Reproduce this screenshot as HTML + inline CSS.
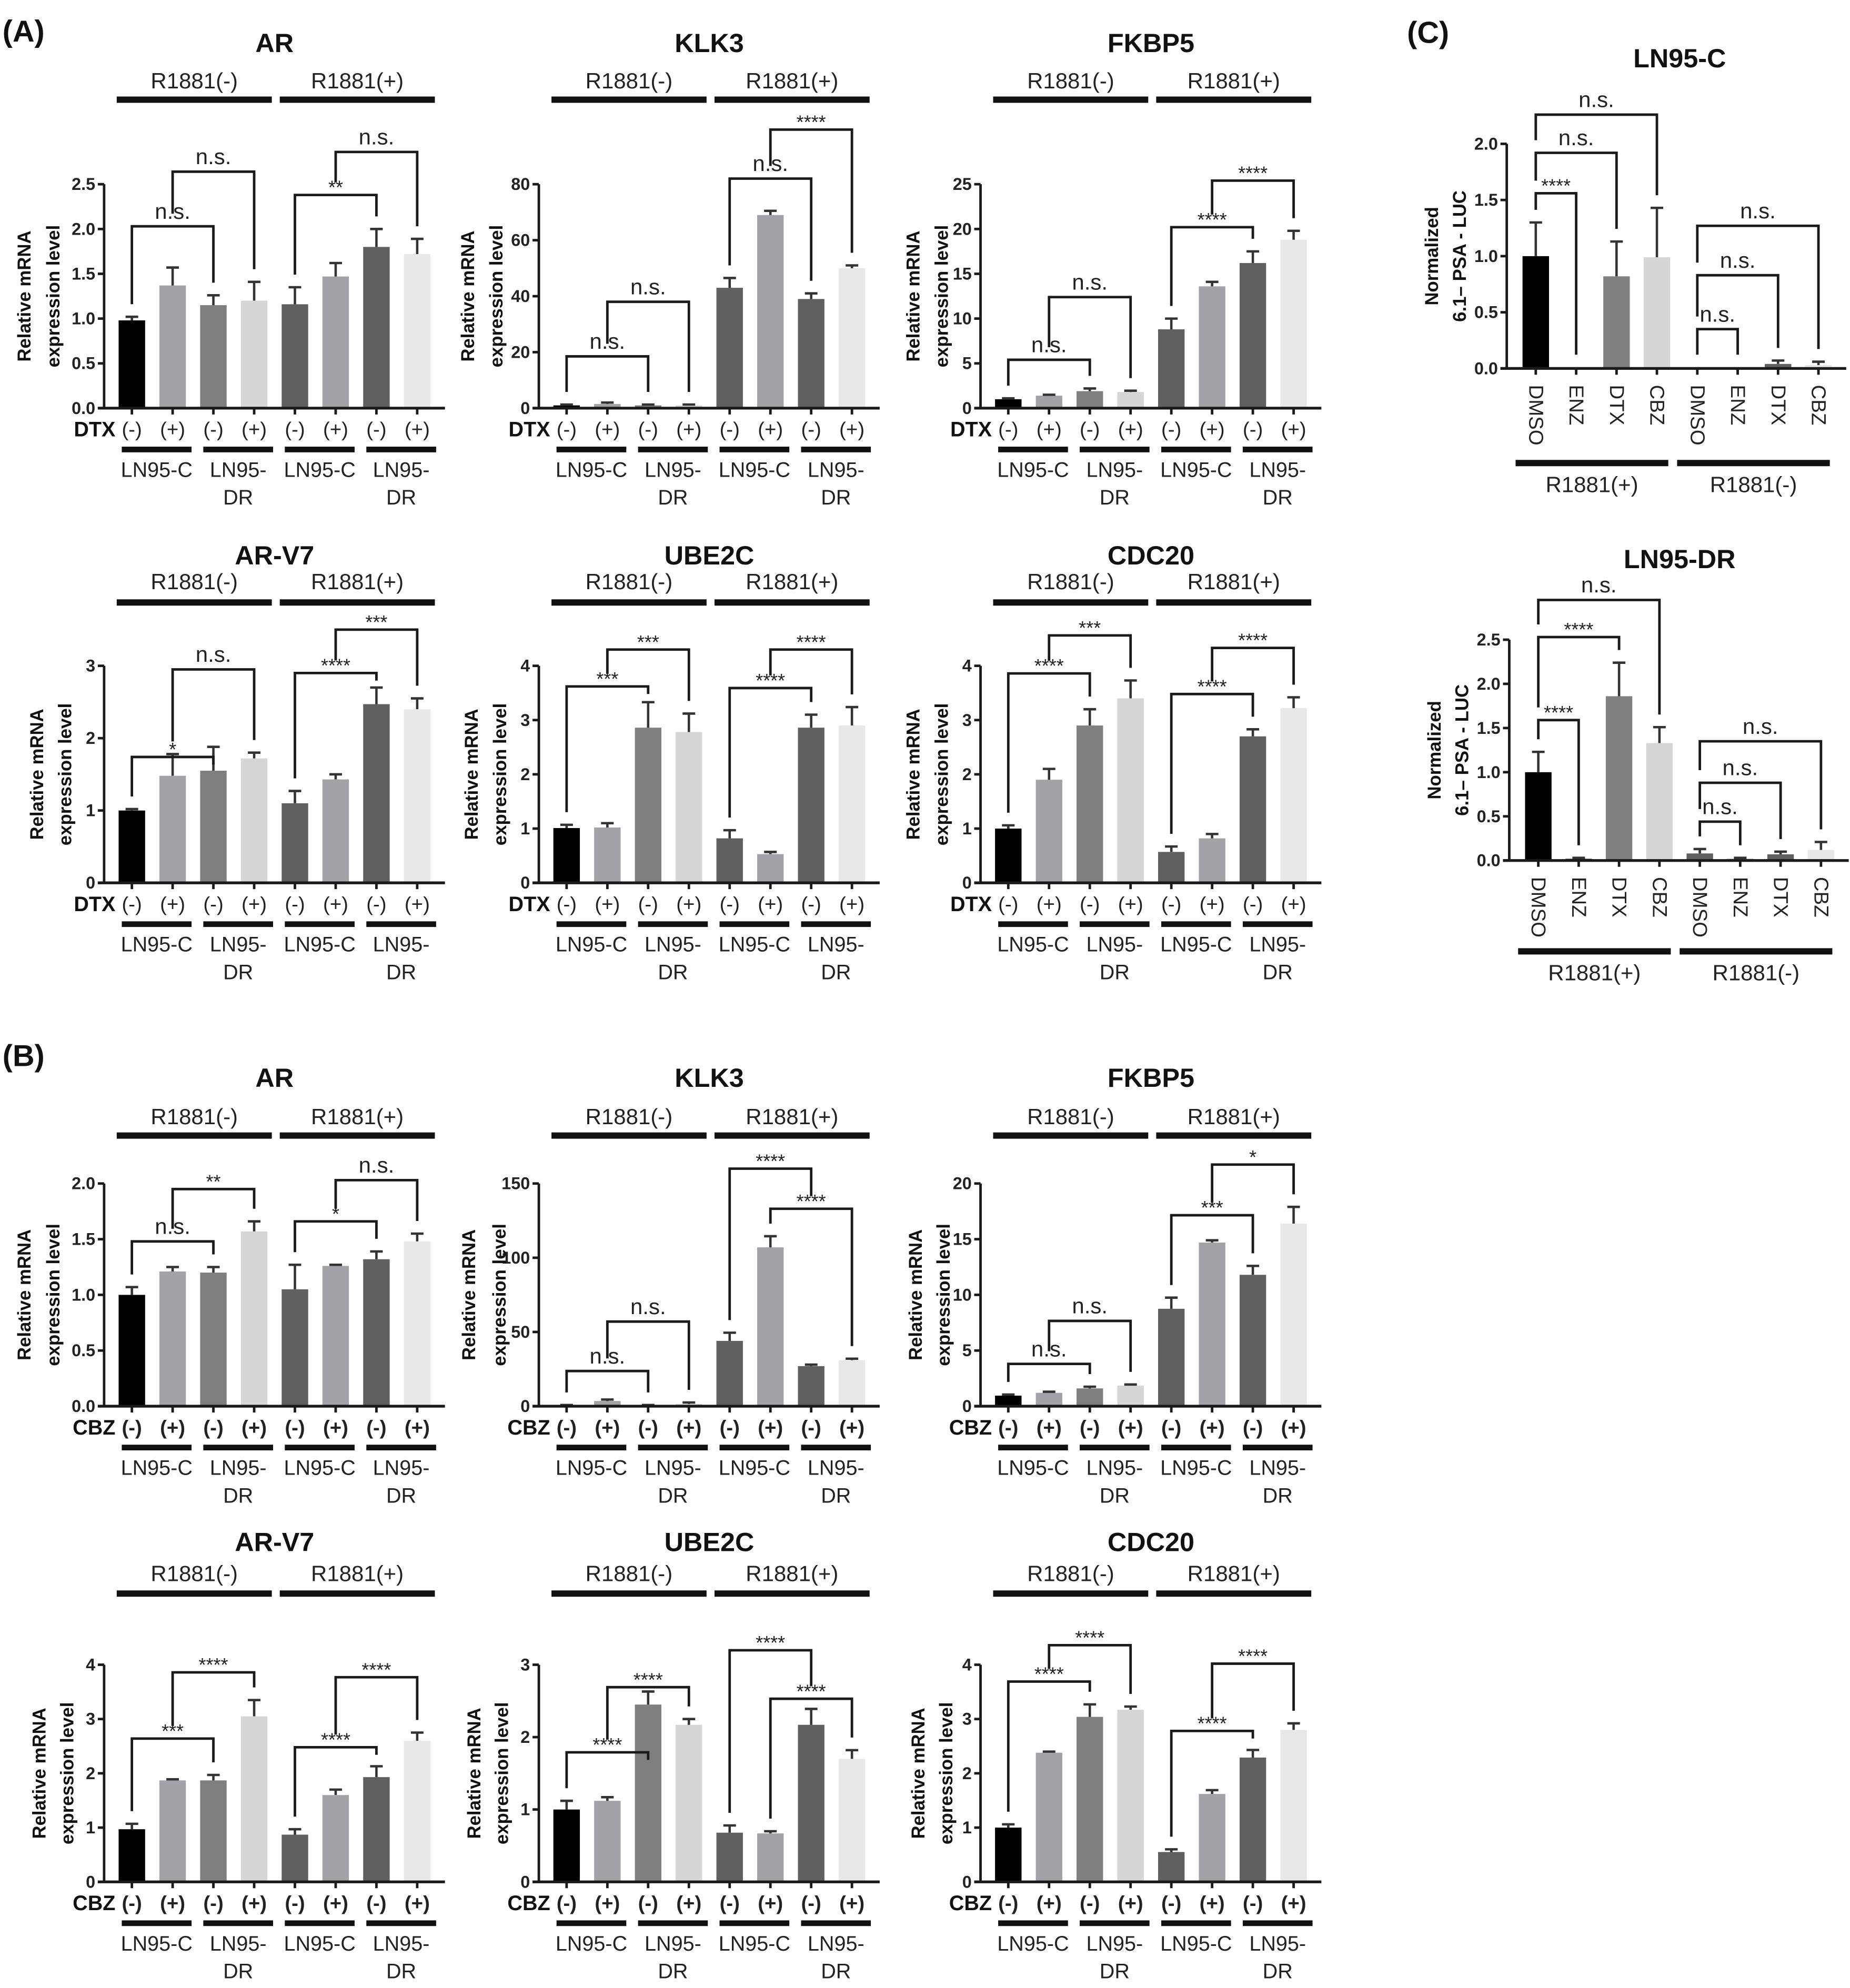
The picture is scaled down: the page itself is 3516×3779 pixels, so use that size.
<!DOCTYPE html>
<html><head><meta charset="utf-8"><style>
html,body{margin:0;padding:0;background:#fff;}
svg{display:block;font-family:"Liberation Sans",Arial,sans-serif;}
</style></head><body>
<svg id="fig" width="3516" height="3779" viewBox="0 0 1466 1575.6" preserveAspectRatio="none" xmlns="http://www.w3.org/2000/svg">
<rect x="0" y="0" width="1466" height="1576" fill="#fff"/>
<text x="2" y="33" font-size="24" font-weight="bold" fill="#111">(A)</text>
<text x="2" y="845" font-size="24" font-weight="bold" fill="#111">(B)</text>
<text x="1115" y="34" font-size="24" font-weight="bold" fill="#111">(C)</text>
</svg>
<script>
// ---------- DATA ----------
const pairs4 = [[0,2],[1,3],[4,6],[5,7]];
const pairsC = [[0,1],[0,2],[0,3],[4,5],[4,6],[4,7]];
const treatLabels = ["(-)","(+)","(-)","(+)","(-)","(+)","(-)","(+)"];
const cCategories = ["DMSO","ENZ","DTX","CBZ","DMSO","ENZ","DTX","CBZ"];

const aAR_values = [0.98,1.37,1.15,1.2,1.16,1.47,1.8,1.72];
const aAR_errors = [0.04,0.2,0.11,0.21,0.19,0.15,0.2,0.17];
const aAR_ticks = [0,0.5,1,1.5,2,2.5];
const aAR_tickLabels = ["0.0","0.5","1.0","1.5","2.0","2.5"];
const aAR_sig = ["n.s.","n.s.","**","n.s."];
const aAR_sigHeights = [2.03,2.64,2.38,2.86];

const aKLK3_values = [1,1.5,1,1,43,69,39,50];
const aKLK3_errors = [0.3,0.5,0.3,0.3,3.5,1.5,2,1];
const aKLK3_ticks = [0,20,40,60,80];
const aKLK3_tickLabels = ["0","20","40","60","80"];
const aKLK3_sig = ["n.s.","n.s.","n.s.","****"];
const aKLK3_sigHeights = [18.5,38,82,99.5];

const aFKBP5_values = [1,1.4,1.9,1.8,8.8,13.6,16.2,18.8];
const aFKBP5_errors = [0.1,0.1,0.3,0.15,1.2,0.5,1.3,1.0];
const aFKBP5_ticks = [0,5,10,15,20,25];
const aFKBP5_tickLabels = ["0","5","10","15","20","25"];
const aFKBP5_sig = ["n.s.","n.s.","****","****"];
const aFKBP5_sigHeights = [5.4,12.4,20.2,25.4];

const aARV7_values = [1.0,1.48,1.55,1.72,1.1,1.43,2.47,2.4];
const aARV7_errors = [0.02,0.3,0.33,0.08,0.17,0.07,0.23,0.15];
const aARV7_ticks = [0,1,2,3];
const aARV7_tickLabels = ["0","1","2","3"];
const aARV7_sig = ["*","n.s.","****","***"];
const aARV7_sigHeights = [1.74,2.95,2.9,3.5];

const aUBE2C_values = [1.01,1.02,2.86,2.78,0.82,0.53,2.86,2.9];
const aUBE2C_errors = [0.06,0.08,0.47,0.34,0.15,0.04,0.24,0.34];
const aUBE2C_ticks = [0,1,2,3,4];
const aUBE2C_tickLabels = ["0","1","2","3","4"];
const aUBE2C_sig = ["***","***","****","****"];
const aUBE2C_sigHeights = [3.62,4.3,3.59,4.3];

const aCDC20_values = [1.0,1.9,2.9,3.4,0.57,0.82,2.7,3.22];
const aCDC20_errors = [0.06,0.2,0.3,0.33,0.1,0.08,0.13,0.2];
const aCDC20_ticks = [0,1,2,3,4];
const aCDC20_tickLabels = ["0","1","2","3","4"];
const aCDC20_sig = ["****","***","****","****"];
const aCDC20_sigHeights = [3.86,4.56,3.48,4.33];

const bAR_values = [1.0,1.21,1.2,1.57,1.05,1.26,1.32,1.48];
const bAR_errors = [0.07,0.04,0.05,0.09,0.22,0.01,0.07,0.07];
const bAR_ticks = [0,0.5,1,1.5,2];
const bAR_tickLabels = ["0.0","0.5","1.0","1.5","2.0"];
const bAR_sig = ["n.s.","**","*","n.s."];
const bAR_sigHeights = [1.48,1.95,1.66,2.03];

const bKLK3_values = [0.5,3.5,0.5,1.5,44,107,27,31];
const bKLK3_errors = [0.3,1,0.3,1,5.5,7.5,1,1];
const bKLK3_ticks = [0,50,100,150];
const bKLK3_tickLabels = ["0","50","100","150"];
const bKLK3_sig = ["n.s.","n.s.","****","****"];
const bKLK3_sigHeights = [23.7,57,160,133];

const bFKBP5_values = [0.95,1.2,1.6,1.85,8.75,14.7,11.8,16.4];
const bFKBP5_errors = [0.1,0.1,0.15,0.1,1.0,0.2,0.8,1.5];
const bFKBP5_ticks = [0,5,10,15,20];
const bFKBP5_tickLabels = ["0","5","10","15","20"];
const bFKBP5_sig = ["n.s.","n.s.","***","*"];
const bFKBP5_sigHeights = [3.8,7.66,17.15,21.7];

const bARV7_values = [0.97,1.87,1.87,3.05,0.87,1.6,1.93,2.6];
const bARV7_errors = [0.1,0.02,0.1,0.3,0.1,0.1,0.2,0.15];
const bARV7_ticks = [0,1,2,3,4];
const bARV7_tickLabels = ["0","1","2","3","4"];
const bARV7_sig = ["***","****","****","****"];
const bARV7_sigHeights = [2.64,3.86,2.48,3.77];

const bUBE2C_values = [1.0,1.12,2.45,2.17,0.68,0.67,2.17,1.7];
const bUBE2C_errors = [0.12,0.05,0.18,0.08,0.1,0.03,0.22,0.12];
const bUBE2C_ticks = [0,1,2,3];
const bUBE2C_tickLabels = ["0","1","2","3"];
const bUBE2C_sig = ["****","****","****","****"];
const bUBE2C_sigHeights = [1.79,2.69,3.2,2.53];

const bCDC20_values = [1.0,2.38,3.04,3.17,0.55,1.62,2.29,2.8];
const bCDC20_errors = [0.06,0.02,0.23,0.06,0.05,0.07,0.14,0.12];
const bCDC20_ticks = [0,1,2,3,4];
const bCDC20_tickLabels = ["0","1","2","3","4"];
const bCDC20_sig = ["****","****","****","****"];
const bCDC20_sigHeights = [3.69,4.36,2.78,4.02];

const cLN95C_values = [1.0,0.01,0.82,0.99,0.01,0.01,0.04,0.03];
const cLN95C_errors = [0.3,0,0.31,0.44,0,0,0.03,0.03];
const cLN95C_ticks = [0,0.5,1,1.5,2];
const cLN95C_tickLabels = ["0.0","0.5","1.0","1.5","2.0"];
const cLN95C_sig = ["****","n.s.","n.s.","n.s.","n.s.","n.s."];
const cLN95C_sigHeights = [1.56,1.92,2.26,0.35,0.83,1.27];

const cLN95DR_values = [1.0,0.02,1.86,1.33,0.08,0.02,0.07,0.12];
const cLN95DR_errors = [0.23,0.01,0.38,0.18,0.05,0.01,0.03,0.09];
const cLN95DR_ticks = [0,0.5,1,1.5,2,2.5];
const cLN95DR_tickLabels = ["0.0","0.5","1.0","1.5","2.0","2.5"];
const cLN95DR_sig = ["****","****","n.s.","n.s.","n.s.","n.s."];
const cLN95DR_sigHeights = [1.59,2.53,2.95,0.44,0.88,1.35];

// ---------- STYLE / LAYOUT ----------
const colorsAB = ["#000000","#a3a3a7","#7f7f7f","#d6d6d6","#606060","#a3a3a7","#606060","#e8e8e8"];
const colorsC = ["#000000","#333333","#808080","#d6d6d6","#606060","#a0a0a0","#606060","#e8e8e8"];
const NS = "http://www.w3.org/2000/svg";
const svg = document.getElementById("fig");
function el(parent, tag, attrs, text){
  const e = document.createElementNS(NS, tag);
  for (const k in attrs) e.setAttribute(k, attrs[k]);
  if (text !== undefined) e.textContent = text;
  parent.appendChild(e);
  return e;
}

function drawChart(p){
  const g = el(svg, "g", {});
  
  
  const max = p.ticks[p.ticks.length-1];
  const x = i => p.ax + p.off + i*p.sp;
  const y = v => p.zeroY - v/max*(p.zeroY - p.topY);
  const ink = "#1a1a1a";
  const t = el(g, "text", {x: p.titleX !== undefined ? p.titleX : (x(0)+x(7))/2, y: p.titleY, "font-size": 21, "font-weight": "bold", "text-anchor": "middle", "dominant-baseline": "central", fill: "#111"}, p.title);
  
  
  for (let i=0;i<8;i++){
    const v = p.values[i];
    const r = el(g, "rect", {x: x(i)-10.5, y: y(v), width: 21, height: Math.max(0.8, p.zeroY - y(v)), fill: p.colors[i]});
    
    
    const e = p.errors[i];
    if (e > 0){
      const eb = el(g, "path", {d: `M${x(i)} ${y(v)} V${y(v+e)} M${x(i)-5} ${y(v+e)} H${x(i)+5}`, stroke: "#333", "stroke-width": 1.9, fill: "none"});
      
      
    }
  }
  const ya = el(g, "line", {x1: p.ax, y1: p.topY, x2: p.ax, y2: p.zeroY, stroke: ink, "stroke-width": 2});
  
  
  const xa = el(g, "line", {x1: p.ax-5, y1: p.zeroY, x2: x(7)+22, y2: p.zeroY, stroke: ink, "stroke-width": 2.2});
  
  
  for (let k=0;k<p.ticks.length;k++){
    const ty = y(p.ticks[k]);
    el(g, "line", {x1: p.ax-5, y1: ty, x2: p.ax, y2: ty, stroke: ink, "stroke-width": 2});
    const tl = el(g, "text", {x: p.ax-7, y: ty, "font-size": 13.5, "font-weight": "bold", "text-anchor": "end", "dominant-baseline": "central", fill: "#222"}, p.tickLabels[k]);
    
    
  }
  for (let i=0;i<8;i++) el(g, "line", {x1: x(i), y1: p.zeroY, x2: x(i), y2: p.zeroY+5, stroke: ink, "stroke-width": 2});
  const ym = (p.topY + p.zeroY)/2;
  const yl1 = el(g, "text", {x: 0, y: 0, transform: `translate(${p.ax - p.yl1},${ym}) rotate(-90)`, "font-size": 14.5, "font-weight": "bold", "text-anchor": "middle", "dominant-baseline": "central", fill: "#111"}, p.ylab1);
  
  
  const yl2 = el(g, "text", {x: 0, y: 0, transform: `translate(${p.ax - p.yl2},${ym}) rotate(-90)`, "font-size": 14.5, "font-weight": "bold", "text-anchor": "middle", "dominant-baseline": "central", fill: "#111"}, p.ylab2);
  
  
  const hs = p.sigHeights;
  for (let k=0;k<p.pairs.length;k++){
    const a = p.pairs[k][0], b = p.pairs[k][1];
    const yb = y(hs[k]);
    const leg = idx => {
      let base = p.values[idx] + p.errors[idx];
      for (let m=0;m<p.pairs.length;m++){
        if (m!==k && hs[m] < hs[k] && p.pairs[m][0] <= idx && idx <= p.pairs[m][1]) base = Math.max(base, hs[m]);
      }
      return Math.max(yb + 6, y(base) - 10);
    };
    const br = el(g, "path", {d: `M${x(a)} ${leg(a)} V${yb} H${x(b)} V${leg(b)}`, stroke: ink, "stroke-width": 2, fill: "none"});
    
    
    const isNS = p.sig[k] === "n.s.";
    const st = el(g, "text", {x: (x(a)+x(b))/2, y: isNS ? yb-12 : yb-6, "font-size": isNS ? 17.5 : 15, "text-anchor": "middle", "dominant-baseline": "central", fill: "#222"}, p.sig[k]);
    
    
  }
  if (p.mode === "AB"){
    const groupsR = [["R1881(-)",0,3],["R1881(+)",4,7]];
    for (const [lab,s,e] of groupsR){
      const gb = el(g, "rect", {x: x(s)-12, y: p.rBarY-2.5, width: x(e)+14-(x(s)-12), height: 5, fill: "#111"});
      
      
      const gt = el(g, "text", {x: (x(s)-12 + x(e)+14)/2, y: p.rTextY, "font-size": 17.5, "text-anchor": "middle", "dominant-baseline": "central", fill: "#222"}, lab);
      
      
    }
    const tr = el(g, "text", {x: x(0)-13, y: p.zeroY+17, "font-size": 16.5, "font-weight": "bold", "text-anchor": "end", "dominant-baseline": "central", fill: "#111"}, p.treat);
    
    
    for (let i=0;i<8;i++){
      const tl = el(g, "text", {x: x(i), y: p.zeroY+17, "font-size": 16, "font-weight": p.treat==="CBZ" ? "bold" : "normal", "text-anchor": "middle", "dominant-baseline": "central", fill: "#222"}, treatLabels[i]);
      
      
    }
    for (let c=0;c<4;c++){
      const l = x(2*c)-8, r = x(2*c+1)+15, cx = (l+r)/2;
      const ul = el(g, "rect", {x: l, y: p.zeroY+30.5, width: r-l, height: 4.5, fill: "#111"});
      
      
      if (c % 2 === 0){
        const ct = el(g, "text", {x: cx, y: p.zeroY+49, "font-size": 16.5, "text-anchor": "middle", "dominant-baseline": "central", fill: "#222"}, "LN95-C");
        
        
      } else {
        const ct = el(g, "text", {x: cx, y: p.zeroY+49, "font-size": 16.5, "text-anchor": "middle", "dominant-baseline": "central", fill: "#222"}, "LN95-");
        
        
        const ct2 = el(g, "text", {x: cx, y: p.zeroY+71, "font-size": 16.5, "text-anchor": "middle", "dominant-baseline": "central", fill: "#222"}, "DR");
        
        
      }
    }
  } else {
    for (let i=0;i<8;i++){
      const cl = el(g, "text", {x: 0, y: 0, transform: `translate(${x(i)},${p.zeroY+13}) rotate(90)`, "font-size": 16, "text-anchor": "start", "dominant-baseline": "central", fill: "#222"}, cCategories[i]);
      
      
    }
    const groupsC = [["R1881(+)",0,3],["R1881(-)",4,7]];
    for (const [lab,s,e] of groupsC){
      const gb = el(g, "rect", {x: x(s)-16, y: p.zeroY+p.gBar-2.5, width: x(e)+9-(x(s)-16), height: 5, fill: "#111"});
      
      
      const gt = el(g, "text", {x: (x(s)-16 + x(e)+9)/2, y: p.zeroY+p.gBar+17, "font-size": 17.5, "text-anchor": "middle", "dominant-baseline": "central", fill: "#222"}, lab);
      
      
    }
  }
}

const rowA1 = {zeroY: 323.5, topY: 146, titleY: 34, rTextY: 64, rBarY: 79, treat: "DTX"};
const rowA2 = {zeroY: 699.7, topY: 527.7, titleY: 440, rTextY: 461, rBarY: 477.5, treat: "DTX"};
const rowB1 = {zeroY: 1114.5, topY: 938, titleY: 854, rTextY: 885, rBarY: 900, treat: "CBZ"};
const rowB2 = {zeroY: 1491.5, topY: 1319.4, titleY: 1222, rTextY: 1247, rBarY: 1263, treat: "CBZ"};
const col = [82.5, 427, 777];
const YL1 = "Relative mRNA", YL2 = "expression level";
function ab(name, title, row, c, values, errors, ticks, tickLabels, sig, sigHeights, yl1, yl2){
  drawChart(Object.assign({}, row, {name, title, ax: col[c], off: 22, sp: 32.3, mode: "AB", values, errors, ticks, tickLabels, pairs: pairs4, sig, sigHeights, colors: colorsAB, ylab1: YL1, ylab2: YL2, yl1, yl2}));
}
ab("a-ar","AR",rowA1,0,aAR_values,aAR_errors,aAR_ticks,aAR_tickLabels,aAR_sig,aAR_sigHeights,63,40);
ab("a-klk3","KLK3",rowA1,1,aKLK3_values,aKLK3_errors,aKLK3_ticks,aKLK3_tickLabels,aKLK3_sig,aKLK3_sigHeights,56,33.5);
ab("a-fkbp5","FKBP5",rowA1,2,aFKBP5_values,aFKBP5_errors,aFKBP5_ticks,aFKBP5_tickLabels,aFKBP5_sig,aFKBP5_sigHeights,53,30.5);
ab("a-ar-v7","AR-V7",rowA2,0,aARV7_values,aARV7_errors,aARV7_ticks,aARV7_tickLabels,aARV7_sig,aARV7_sigHeights,53,30.5);
ab("a-ube2c","UBE2C",rowA2,1,aUBE2C_values,aUBE2C_errors,aUBE2C_ticks,aUBE2C_tickLabels,aUBE2C_sig,aUBE2C_sigHeights,53,30.5);
ab("a-cdc20","CDC20",rowA2,2,aCDC20_values,aCDC20_errors,aCDC20_ticks,aCDC20_tickLabels,aCDC20_sig,aCDC20_sigHeights,53,30.5);
ab("b-ar","AR",rowB1,0,bAR_values,bAR_errors,bAR_ticks,bAR_tickLabels,bAR_sig,bAR_sigHeights,63,40);
ab("b-klk3","KLK3",rowB1,1,bKLK3_values,bKLK3_errors,bKLK3_ticks,bKLK3_tickLabels,bKLK3_sig,bKLK3_sigHeights,55,31);
ab("b-fkbp5","FKBP5",rowB1,2,bFKBP5_values,bFKBP5_errors,bFKBP5_ticks,bFKBP5_tickLabels,bFKBP5_sig,bFKBP5_sigHeights,51,29);
ab("b-ar-v7","AR-V7",rowB2,0,bARV7_values,bARV7_errors,bARV7_ticks,bARV7_tickLabels,bARV7_sig,bARV7_sigHeights,51,29);
ab("b-ube2c","UBE2C",rowB2,1,bUBE2C_values,bUBE2C_errors,bUBE2C_ticks,bUBE2C_tickLabels,bUBE2C_sig,bUBE2C_sigHeights,51,29);
ab("b-cdc20","CDC20",rowB2,2,bCDC20_values,bCDC20_errors,bCDC20_ticks,bCDC20_tickLabels,bCDC20_sig,bCDC20_sigHeights,49,27);

drawChart({name: "c-ln95-c", title: "LN95-C", titleX: 1331, titleY: 46, ax: 1194, zeroY: 292, topY: 114, off: 23, sp: 32, mode: "C", gBar: 75,
  values: cLN95C_values, errors: cLN95C_errors, ticks: cLN95C_ticks, tickLabels: cLN95C_tickLabels, pairs: pairsC, sig: cLN95C_sig, sigHeights: cLN95C_sigHeights,
  colors: colorsC, ylab1: "Normalized", ylab2: "6.1\u2013 PSA - LUC", yl1: 59, yl2: 37});
drawChart({name: "c-ln95-dr", title: "LN95-DR", titleX: 1331, titleY: 443, ax: 1196, zeroY: 682, topY: 507, off: 23, sp: 32, mode: "C", gBar: 72,
  values: cLN95DR_values, errors: cLN95DR_errors, ticks: cLN95DR_ticks, tickLabels: cLN95DR_tickLabels, pairs: pairsC, sig: cLN95DR_sig, sigHeights: cLN95DR_sigHeights,
  colors: colorsC, ylab1: "Normalized", ylab2: "6.1\u2013 PSA - LUC", yl1: 59, yl2: 37});
</script>
</body></html>
